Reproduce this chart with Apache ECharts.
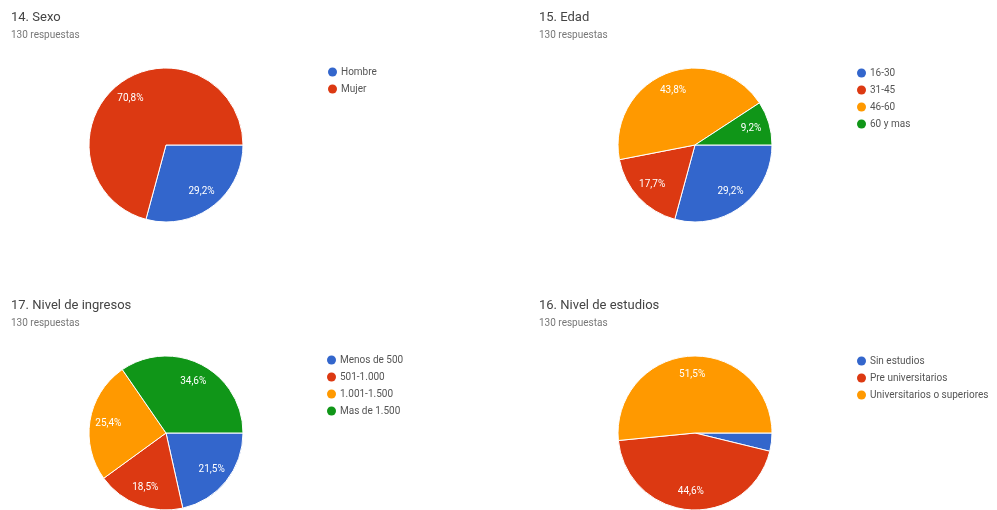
<!DOCTYPE html>
<html>
<head>
<meta charset="utf-8">
<title>Encuesta - datos sociodemográficos</title>
<script src="https://cdn.jsdelivr.net/npm/echarts@6/dist/echarts.min.js"></script>
<style>
  html, body { margin: 0; padding: 0; background: #fff; }
  #main { width: 997px; height: 510px; }
</style>
</head>
<body>
<div id="main"></div>
<script>
// Survey answers (percent of 130 responses)
const sexoCats = ['Hombre', 'Mujer'];
const sexoVals = [29.2, 70.8];

const edadCats = ['16-30', '31-45', '46-60', '60 y mas'];
const edadVals = [29.2, 17.7, 43.8, 9.2];

const ingresosCats = ['Menos de 500', '501-1.000', '1.001-1.500', 'Mas de 1.500'];
const ingresosVals = [21.5, 18.5, 25.4, 34.6];

const estudiosCats = ['Sin estudios', 'Pre universitarios', 'Universitarios o superiores'];
const estudiosVals = [3.8, 44.6, 51.5];

const panelTitles = ['14. Sexo', '15. Edad', '17. Nivel de ingresos', '16. Nivel de estudios'];
const responsesText = '130 respuestas';

const palette = ['#3366cc', '#dc3912', '#ff9900', '#109618'];
const FONT = 'Roboto, Arial, sans-serif';

const panels = [
  { cats: sexoCats, vals: sexoVals, x: 0, y: 0, cx: 166, cy: 145, lx: 323, ly: 62 },
  { cats: edadCats, vals: edadVals, x: 528, y: 0, cx: 695, cy: 145, lx: 852, ly: 63 },
  { cats: ingresosCats, vals: ingresosVals, x: 0, y: 288, cx: 166, cy: 433, lx: 322, ly: 350 },
  { cats: estudiosCats, vals: estudiosVals, x: 528, y: 288, cx: 695, cy: 433, lx: 852, ly: 351 }
];

const R = 77;

const titles = [];
const legends = [];
const series = [];

panels.forEach((p, i) => {
  titles.push({
    text: panelTitles[i],
    left: p.x + 6, top: p.y + 6,
    textStyle: { fontFamily: FONT, fontSize: 13, fontWeight: 'normal', color: '#444' }
  });
  titles.push({
    text: responsesText,
    left: p.x + 6, top: p.y + 25,
    textStyle: { fontFamily: FONT, fontSize: 10, fontWeight: 'normal', color: '#777' }
  });
  legends.push({
    data: p.cats,
    orient: 'vertical',
    left: p.lx, top: p.ly,
    icon: 'circle',
    itemWidth: 9, itemHeight: 9,
    itemGap: 7,
    selectedMode: false,
    itemStyle: { borderWidth: 0 },
    textStyle: { fontFamily: FONT, fontSize: 10, color: '#555', padding: [0, 0, 0, -1] }
  });
  // Each slice carries its own colour so every pie restarts the palette
  const items = p.cats.map((c, k) => ({
    name: c,
    value: p.vals[k],
    itemStyle: { color: palette[k] }
  }));
  // Filled slices
  series.push({
    type: 'pie',
    center: [p.cx, p.cy],
    radius: [0, R],
    startAngle: 0,
    clockwise: true,
    animation: false,
    silent: true,
    itemStyle: { borderColor: '#fff', borderWidth: 1 },
    label: { show: false },
    labelLine: { show: false },
    data: items
  });
  // Transparent ring that carries the percentage labels at ~0.72 R
  series.push({
    type: 'pie',
    center: [p.cx, p.cy],
    radius: [34, R],
    startAngle: 0,
    clockwise: true,
    animation: false,
    silent: true,
    itemStyle: { color: 'rgba(0,0,0,0)', borderWidth: 0 },
    emphasis: { disabled: true },
    label: {
      show: true,
      position: 'inside',
      color: '#fff',
      fontFamily: FONT,
      fontSize: 10,
      formatter: (d) => d.value < 5 ? '' : d.value.toFixed(1).replace('.', ',') + '%'
    },
    labelLine: { show: false },
    data: p.vals.map((v) => ({ value: v }))
  });
});

const chart = echarts.init(document.getElementById('main'), null, { renderer: 'canvas' });
chart.setOption({
  backgroundColor: '#fff',
  animation: false,
  title: titles,
  legend: legends,
  series: series
});
</script>
</body>
</html>
